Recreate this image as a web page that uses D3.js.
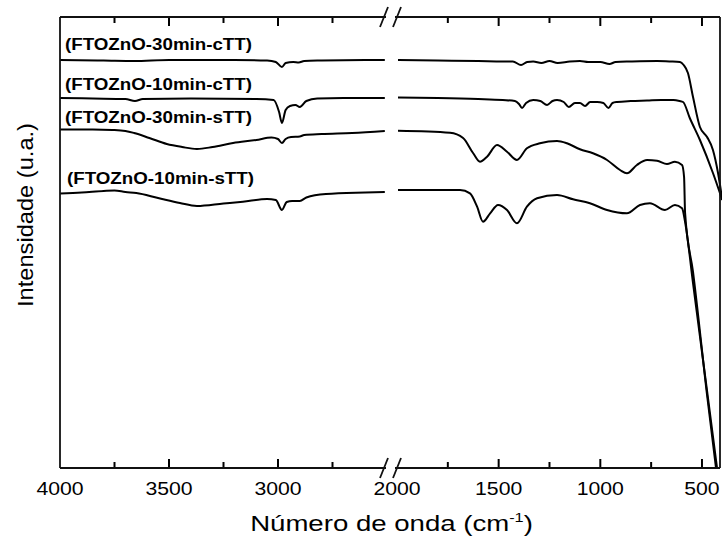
<!DOCTYPE html>
<html>
<head>
<meta charset="utf-8">
<script src="https://cdn.jsdelivr.net/npm/d3@7"></script>
<style>
  body { margin: 0; background: #fff; }
  text { font-family: "Liberation Sans", Arial, sans-serif; fill: #000; }
</style>
</head>
<body>
<div id="chart"></div>
<script>
var width = 722,
    height = 537;

// spectra: [wavenumber (cm-1), intensity (a.u.)]
var ftoZnO30cTT = [
  [4000,408],[3800,407.5],[3660,407],[3500,408],[3200,408],[3050,407.5],[3010,406],[2982,401],
  [2965,405],[2930,406],[2905,405.5],[2880,407],[2800,407.5],[2600,408],[2510,408],
  [1995,408],[1800,407.5],[1600,407],[1480,406.5],[1430,406.5],[1390,403],[1360,406],[1330,406.5],
  [1290,405],[1250,407],[1210,405],[1150,406.5],[1100,407],[1060,406],[1000,406],[955,404],
  [925,406],[850,406.5],[720,407],[660,406.5],[608,406],[590,403],[569,395],[544,371],
  [510,341],[475,331],[446,318],[421,295],[400,268]
];
var ftoZnO10cTT = [
  [4000,370],[3850,369.5],[3700,369],[3656,367],[3620,369],[3400,369.5],[3100,369],[3020,368],
  [2995,356],[2982,345],[2965,358],[2945,362],[2920,363],[2900,361],[2870,367],[2820,369.5],
  [2700,370],[2510,370],
  [1995,370.5],[1800,370],[1600,369],[1480,368],[1420,367],[1400,364],[1385,360],[1365,365],
  [1330,368],[1295,367],[1262,363],[1235,367],[1213,368],[1180,366],[1155,361],[1125,365],
  [1100,365],[1075,362],[1050,366],[1016,366],[985,365],[960,360],[940,365],[918,366],
  [850,367],[770,367.5],[700,368],[640,368],[610,367],[593,366],[560,350],[510,328],
  [446,295],[400,268]
];
var ftoZnO30sTT = [
  [4000,338.5],[3850,338.5],[3760,338],[3700,337],[3660,335],[3590,330],[3510,324],[3440,321],
  [3372,319],[3300,321],[3206,325],[3100,328],[3030,330.5],[3000,329],[2982,325],[2965,329],
  [2940,331],[2900,331.5],[2880,333],[2800,334],[2660,335],[2510,337],
  [1995,337.3],[1739,335.3],[1675,330],[1626,315],[1592,306.3],[1557,311.3],[1508,323],
  [1459,316.3],[1410,308],[1361,319.7],[1297,324.7],[1213,327],[1164,324.7],[1100,318.7],
  [1036,314.7],[967,308],[903,298],[869,294.7],[820,303],[770,308],[721,307.3],[672,304],
  [633,306.3],[598,303],[588,291],[583,255],[544,196],[475,73],[431,0]
];
var ftoZnO10sTT = [
  [4000,274.5],[3900,275.5],[3800,277],[3750,277.5],[3700,276],[3650,275],[3550,270],[3450,265],
  [3372,262],[3250,264.5],[3161,266.3],[3050,269],[3010,268],[2982,258],[2960,266],[2935,267],
  [2900,267],[2870,270.5],[2780,274],[2600,275.5],[2510,276],
  [1995,278],[1690,278],[1641,274.7],[1606,261.3],[1577,246.3],[1542,254.7],[1503,263],
  [1459,258],[1410,244.7],[1361,261.3],[1311,269.7],[1213,273],[1134,268.7],[1051,264.7],
  [967,258],[869,254.7],[805,263],[756,264.7],[682,258],[633,263],[598,259.7],[583,246],
  [544,185],[475,77],[426,0]
];

var seriesNames = ["(FTOZnO-30min-cTT)", "(FTOZnO-10min-cTT)", "(FTOZnO-30min-sTT)", "(FTOZnO-10min-sTT)"];
var seriesData = [ftoZnO30cTT, ftoZnO10cTT, ftoZnO30sTT, ftoZnO10sTT];
var labelPos = [[65, 50], [65, 90], [65, 123], [67, 184]];

var majorLeft = [4000, 3500, 3000],
    minorLeft = [3750, 3250, 2750],
    majorRight = [2000, 1500, 1000, 500],
    minorRight = [1750, 1250, 750];

var plotTop = 17, plotBottom = 468, plotLeft = 60, plotRight = 720;

var xL = d3.scaleLinear().domain([4000, 2500]).range([60, 387]);
var xR = d3.scaleLinear().domain([2000, 400]).range([397, 722.3]);
var y = d3.scaleLinear().domain([0, 451]).range([plotBottom, plotTop]);

var svg = d3.select("#chart").append("svg")
    .attr("width", width)
    .attr("height", height);

// spectra
var lineL = d3.line().x(function(d) { return xL(d[0]); }).y(function(d) { return y(d[1]); }).curve(d3.curveMonotoneX);
var lineR = d3.line().x(function(d) { return xR(d[0]); }).y(function(d) { return y(d[1]); }).curve(d3.curveMonotoneX);

seriesData.forEach(function(s) {
  svg.append("path")
      .attr("d", lineL(s.filter(function(d) { return d[0] >= 2500; })))
      .attr("fill", "none").attr("stroke", "#000").attr("stroke-width", 2)
      .attr("stroke-linejoin", "round");
  svg.append("path")
      .attr("d", lineR(s.filter(function(d) { return d[0] <= 2000; })))
      .attr("fill", "none").attr("stroke", "#000").attr("stroke-width", 2)
      .attr("stroke-linejoin", "round");
});

// inward ticks on top and bottom, from the two scales
var tickG = svg.append("g").attr("stroke", "#000").attr("stroke-width", 2);
function ticks(scale, vals, len) {
  vals.forEach(function(v) {
    var x = scale(v);
    tickG.append("line").attr("x1", x).attr("x2", x).attr("y1", plotBottom).attr("y2", plotBottom - len);
    tickG.append("line").attr("x1", x).attr("x2", x).attr("y1", plotTop).attr("y2", plotTop + len);
  });
}
ticks(xL, majorLeft.filter(function(d) { return d < 4000; }), 9);
ticks(xL, minorLeft, 6);
ticks(xR, majorRight.filter(function(d) { return d < 2000; }), 9);
ticks(xR, minorRight, 6);

// tick labels
function tickLabels(scale, vals) {
  svg.append("g").selectAll("text")
      .data(vals)
      .enter().append("text")
      .attr("x", function(d) { return scale(d); })
      .attr("y", 495)
      .attr("text-anchor", "middle")
      .style("font-size", "18px")
      .attr("textLength", function(d) { return String(d).length * 11.8; })
      .attr("lengthAdjust", "spacingAndGlyphs")
      .text(function(d) { return d; });
}
tickLabels(xL, majorLeft);
tickLabels(xR, majorRight);

// frame with broken x axis
var frame = svg.append("g").attr("stroke", "#111").attr("stroke-width", 1.8).attr("fill", "none");
[plotTop, plotBottom].forEach(function(yy) {
  frame.append("line").attr("x1", plotLeft).attr("x2", 386).attr("y1", yy).attr("y2", yy);
  frame.append("line").attr("x1", 395).attr("x2", plotRight).attr("y1", yy).attr("y2", yy);
  [384, 397].forEach(function(bx) {
    frame.append("line").attr("x1", bx - 4).attr("x2", bx + 4).attr("y1", yy + 10).attr("y2", yy - 10);
  });
});
frame.append("line").attr("x1", plotLeft).attr("x2", plotLeft).attr("y1", plotTop).attr("y2", plotBottom);
frame.append("line").attr("x1", plotRight).attr("x2", plotRight).attr("y1", plotTop).attr("y2", plotBottom);

// series labels
svg.selectAll(".lbl")
    .data(seriesNames)
    .enter().append("text")
    .attr("class", "lbl")
    .attr("x", function(d, i) { return labelPos[i][0]; })
    .attr("y", function(d, i) { return labelPos[i][1]; })
    .style("font-size", "16px")
    .style("font-weight", "bold")
    .attr("textLength", 187)
    .attr("lengthAdjust", "spacingAndGlyphs")
    .text(function(d) { return d; });

// axis titles
svg.append("text")
    .attr("transform", "translate(33,215) rotate(-90)")
    .attr("text-anchor", "middle")
    .style("font-size", "22px")
    .attr("textLength", 184)
    .attr("lengthAdjust", "spacingAndGlyphs")
    .text("Intensidade (u.a.)");

var xt = svg.append("g");
var xtText = xt.append("text")
    .attr("text-anchor", "middle")
    .style("font-size", "22px");
xtText.append("tspan").text("Número de onda (cm");
xtText.append("tspan").attr("dy", -9).style("font-size", "13px").text("-1");
xtText.append("tspan").attr("dy", 9).text(")");
var natural = xtText.node().getComputedTextLength();
xt.attr("transform", "translate(391.5,531) scale(" + (283 / natural) + ",1)");
</script>
</body>
</html>
